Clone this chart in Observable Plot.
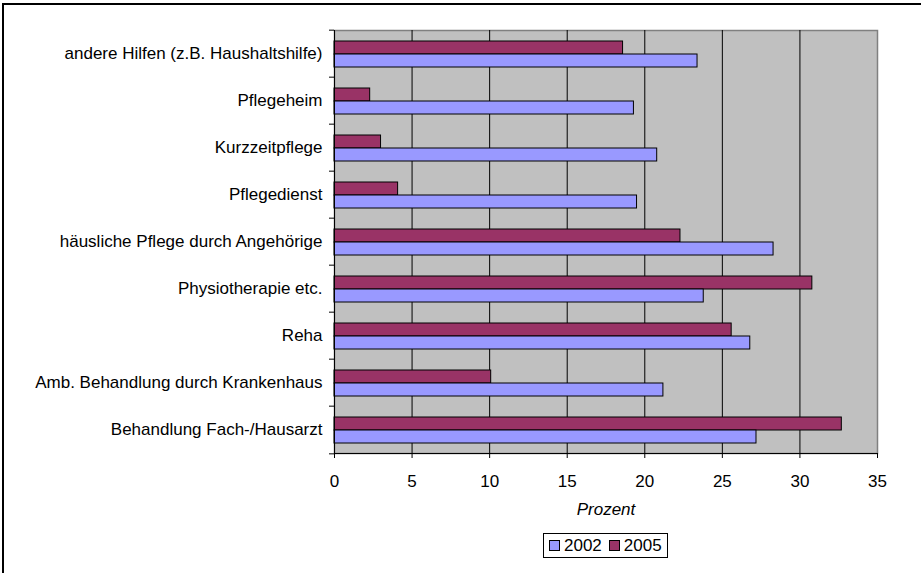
<!DOCTYPE html>
<html><head><meta charset="utf-8">
<script src="https://cdn.jsdelivr.net/npm/d3@7"></script>
<script src="https://cdn.jsdelivr.net/npm/@observablehq/plot@0.6"></script>
<style>
body{margin:0;background:#fff;font-family:"Liberation Sans",Arial,sans-serif;}
#wrap{position:relative;width:921px;height:573px;overflow:hidden;background:#fff;}
#chart{position:absolute;left:0;top:0;}
#border{position:absolute;left:2px;top:3px;width:1000px;height:1000px;border-top:2px solid #000;border-left:2px solid #000;}
#legend{position:absolute;left:543px;top:533px;width:123px;height:23px;border:1px solid #000;background:#fff;font-size:17px;line-height:23px;white-space:nowrap;}
#legend .sw{display:inline-block;width:9px;height:9px;border:1px solid #000;vertical-align:middle;position:relative;top:-1px;}
#legend .it{display:inline-block;}
svg [aria-label="x-axis label"] text{font-style:italic;}
</style>
</head><body>
<div id="wrap">
<div id="chart"></div>
<div id="border"></div>
<div id="legend"></div>
</div>
<script>
const categories = [
  "andere Hilfen (z.B. Haushaltshilfe)",
  "Pflegeheim",
  "Kurzzeitpflege",
  "Pflegedienst",
  "häusliche Pflege durch Angehörige",
  "Physiotherapie etc.",
  "Reha",
  "Amb. Behandlung durch Krankenhaus",
  "Behandlung Fach-/Hausarzt"
];
const values2002 = [23.4, 19.3, 20.8, 19.5, 28.3, 23.8, 26.8, 21.2, 27.2];
const values2005 = [18.6, 2.3, 3.0, 4.1, 22.3, 30.8, 25.6, 10.1, 32.7];
const years = ["2002", "2005"];
const colors = ["#9999FF", "#993366"];
const xTicks = [0, 5, 10, 15, 20, 25, 30, 35];
const gridTicks = [5, 10, 15, 20, 25, 30];
const axisTitle = "Prozent";

const data = categories.flatMap((c, i) => [
  {cat: c, year: "2005", value: values2005[i]},
  {cat: c, year: "2002", value: values2002[i]}
]);

const W = 921, H = 520, mL = 334, mR = 44, mT = 27, mB = 64;
const half = (H - mT - mB) / categories.length / 2;

const chart = Plot.plot({
  width: W, height: H,
  marginLeft: mL, marginRight: mR, marginTop: mT, marginBottom: mB,
  style: {fontFamily: '"Liberation Sans", Arial, sans-serif', fontSize: "17px", color: "#000", background: "transparent", overflow: "visible"},
  x: {domain: [0, 35]},
  y: {domain: ["2005", "2002"], paddingInner: 0, paddingOuter: 0.785, axis: null},
  fy: {domain: categories, padding: 0},
  color: {domain: years, range: colors},
  marks: [
    Plot.frame({facet: "super", fill: "#c0c0c0", stroke: "#808080", strokeWidth: 1.5}),
    Plot.ruleX(gridTicks, {stroke: "#000", strokeWidth: 1}),
    Plot.barX(data, {x: "value", y: "year", fy: "cat", fill: "year", stroke: "#000", strokeWidth: 1}),
    Plot.ruleX([0], {stroke: "#000", strokeWidth: 1}),
    Plot.frame({facet: "super", anchor: "bottom", stroke: "#000", strokeWidth: 1}),
    Plot.axisX({ticks: xTicks, tickSize: 5, tickPadding: 16, label: axisTitle, labelAnchor: "center", labelArrow: "none", labelOffset: 61}),
    Plot.axisFy({anchor: "left", tickSize: 0, tickPadding: 12, label: null}),
    Plot.axisFy({anchor: "left", tickSize: 5, text: null, label: null, dy: -half}),
    Plot.axisFy({anchor: "left", tickSize: 5, text: null, label: null, dy: half, ticks: [categories[categories.length - 1]]})
  ]
});
document.getElementById("chart").appendChild(chart);

const legend = document.getElementById("legend");
years.forEach((y, i) => {
  const it = document.createElement("span");
  it.className = "it";
  it.style.marginLeft = i === 0 ? "5px" : "7px";
  const sw = document.createElement("span");
  sw.className = "sw";
  sw.style.background = colors[i];
  it.appendChild(sw);
  const t = document.createElement("span");
  t.textContent = y;
  t.style.marginLeft = "4px";
  it.appendChild(t);
  legend.appendChild(it);
});
</script>
</body></html>
